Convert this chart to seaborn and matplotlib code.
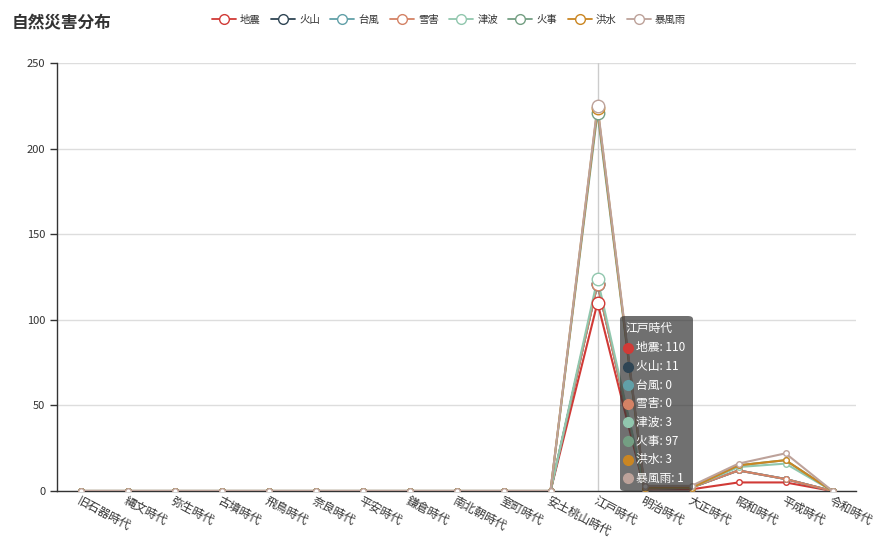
import matplotlib
matplotlib.use("Agg")
import matplotlib.pyplot as plt
from matplotlib.lines import Line2D
from matplotlib.patches import FancyBboxPatch
import numpy as np
import pandas as pd
import seaborn as sns

# Periods of Japanese history (x categories)
periods = ["旧石器時代", "縄文時代", "弥生時代", "古墳時代", "飛鳥時代", "奈良時代",
           "平安時代", "鎌倉時代", "南北朝時代", "室町時代", "安土桃山時代", "江戸時代",
           "明治時代", "大正時代", "昭和時代", "平成時代", "令和時代"]

# Disaster types (series) and their counts per period
jishin    = [0, 0, 0, 0, 0, 0, 0, 0, 0, 0, 0, 110, 1, 1, 5, 5, 0]
kazan     = [0, 0, 0, 0, 0, 0, 0, 0, 0, 0, 0, 11, 0, 1, 7, 2, 0]
taifu     = [0, 0, 0, 0, 0, 0, 0, 0, 0, 0, 0, 0, 0, 0, 0, 0, 0]
setsugai  = [0, 0, 0, 0, 0, 0, 0, 0, 0, 0, 0, 0, 0, 0, 0, 0, 0]
tsunami   = [0, 0, 0, 0, 0, 0, 0, 0, 0, 0, 0, 3, 1, 0, 2, 9, 0]
kaji      = [0, 0, 0, 0, 0, 0, 0, 0, 0, 0, 0, 97, 0, 0, 1, 2, 0]
kozui     = [0, 0, 0, 0, 0, 0, 0, 0, 0, 0, 0, 3, 0, 0, 0, 0, 0]
bofuu     = [0, 0, 0, 0, 0, 0, 0, 0, 0, 0, 0, 1, 1, 1, 1, 4, 0]

series_names = ["地震", "火山", "台風", "雪害", "津波", "火事", "洪水", "暴風雨"]
series_values = [jishin, kazan, taifu, setsugai, tsunami, kaji, kozui, bofuu]
colors = ["#d13a36", "#2f4554", "#61a0a8", "#d48265", "#91c7ae", "#749f83", "#ca8622", "#bda29a"]

hover_period = "江戸時代"

sns.set_theme(style="white")
plt.rcParams["font.family"] = ["Noto Sans CJK JP", "DejaVu Sans"]

W, H = 877, 539
fig = plt.figure(figsize=(W / 100, H / 100), dpi=100)
ax = fig.add_axes([57 / W, 1 - 491 / H, (856 - 57) / W, (491 - 63) / H])

# stacked line chart: cumulative sums per period
raw = np.array(series_values, dtype=float)
stacked = np.cumsum(raw, axis=0)
rows = []
for name, vals in zip(series_names, stacked):
    for i, v in enumerate(vals):
        rows.append({"period": i, "series": name, "value": v})
df = pd.DataFrame(rows)

palette = dict(zip(series_names, colors))
sns.lineplot(data=df, x="period", y="value", hue="series", hue_order=series_names,
             palette=palette, linewidth=1.5, marker="o", markersize=4,
             markerfacecolor="white", markeredgewidth=1.0, legend=False, ax=ax, zorder=3)
for ln, c in zip(ax.lines, colors):
    ln.set_markeredgecolor(c)

hi = periods.index(hover_period)
# axis pointer
ax.axvline(hi, color="#cccccc", linewidth=1, zorder=1)
# emphasized symbols at the hovered period
for name, vals, c in zip(series_names, stacked, colors):
    ax.plot([hi], [vals[hi]], marker="o", markersize=9, markerfacecolor="white",
            markeredgecolor=c, markeredgewidth=1.0, linestyle="none", zorder=4)

ax.set_xlim(-0.5, len(periods) - 0.5)
ax.set_ylim(0, 250)
ax.set_yticks(np.arange(0, 251, 50))
ax.set_xticks(range(len(periods)))
ax.set_xticklabels(periods, rotation=-28, ha="left", va="top", rotation_mode="anchor",
                   fontsize=8.5, color="#333333")
ax.tick_params(axis="x", length=0, pad=2)
ax.tick_params(axis="y", length=5, width=1, color="#333333", labelsize=8,
               labelcolor="#333333", left=True, direction="out")
ax.set_xlabel("")
ax.set_ylabel("")
ax.yaxis.grid(True, color="#dddddd", linewidth=1)
ax.xaxis.grid(False)
ax.set_axisbelow(True)
for s in ["top", "right"]:
    ax.spines[s].set_visible(False)
for s in ["left", "bottom"]:
    ax.spines[s].set_color("#333333")
    ax.spines[s].set_linewidth(1)

# title
fig.text(12 / W, 1 - 22 / H, "自然災害分布", fontsize=12, fontweight="bold",
         color="#333333", va="center", ha="left")

# legend
handles = [Line2D([0], [0], color=c, linewidth=1.3, marker="o", markersize=7,
                  markerfacecolor="white", markeredgecolor=c, markeredgewidth=1.0)
           for c in colors]
fig.legend(handles, series_names, loc="center", bbox_to_anchor=(449 / W, 1 - 20 / H),
           ncol=8, frameon=False, fontsize=7.5, handlelength=2.3, handletextpad=0.4,
           columnspacing=1.0, labelcolor="#333333")

# tooltip for the hovered period
def px(x, y):
    return x / W, 1 - y / H

bx0, by0 = px(620, 491)
bx1, by1 = px(693, 316)
box = FancyBboxPatch((bx0, by0), bx1 - bx0, by1 - by0,
                     boxstyle="round,pad=0,rounding_size=0.006",
                     transform=fig.transFigure, facecolor=(0.2, 0.2, 0.2, 0.7),
                     edgecolor="none", zorder=10)
fig.patches.append(box)
tx, ty = px(625, 328)
fig.text(tx, ty, hover_period, fontsize=8.5, color="white", va="center", ha="left", zorder=11)
for k, (name, vals, c) in enumerate(zip(series_names, raw, colors)):
    y = 348 + k * 18.6
    dx, dy = px(628, y)
    fig.lines.append(Line2D([dx], [dy], marker="o", markersize=7, color=c,
                            linestyle="none", transform=fig.transFigure, zorder=11))
    lx, ly = px(636, y)
    fig.text(lx, ly, f"{name}: {int(vals[hi])}", fontsize=8.5, color="white",
             va="center", ha="left", zorder=11)

fig.savefig("out.png", dpi=100)
